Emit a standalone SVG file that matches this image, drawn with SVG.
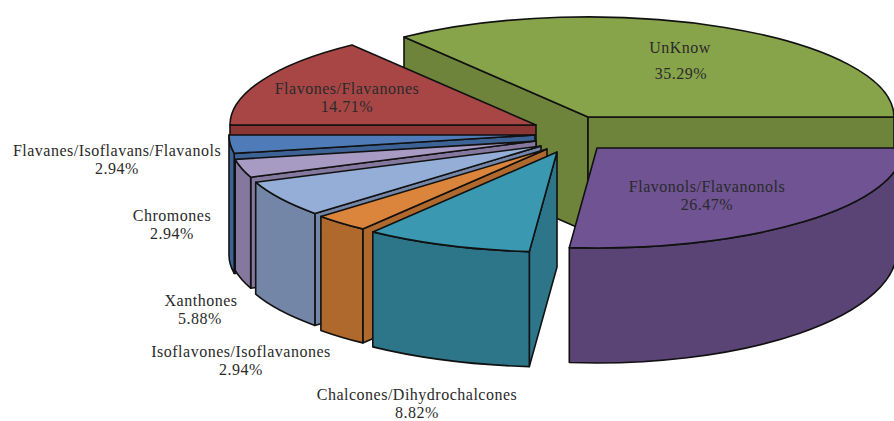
<svg xmlns="http://www.w3.org/2000/svg" width="894" height="421" viewBox="0 0 894 421">
<style>
path,polygon{stroke:#111;stroke-width:1.6;stroke-linejoin:round}
.gt{fill:#88A44B}.gs{fill:#6E843A}
.rt{fill:#A84646}.rs{fill:#8C3535}
.bt{fill:#4F7CB8}.bs{fill:#3D6396}
.lt{fill:#A79BC4}.ls{fill:#84789E}
.xt{fill:#95AED7}.xs{fill:#7386A8}
.ot{fill:#DB843B}.os{fill:#B0692C}
.tt{fill:#3A98B1}.ts{fill:#2D768A}
.pt{fill:#6F5393}.ps{fill:#5A4475}
text{font-family:"Liberation Serif","Times New Roman",serif;font-size:16px;letter-spacing:0.5px;fill:#2a2a2a;text-anchor:middle}
</style>
<rect width="894" height="421" fill="#fff"/>
<g id="slice-unknow">
<polygon class="gs" points="404,37 588,117 588,232 404,152"/>
<polygon class="gs" points="588,117 894,117 894,232 588,232"/>
<path class="gt" d="M588,117 L894,117 A306,100 0 0 0 404,37 Z"/>
</g>
<g id="slice-flavones">
<polygon class="rs" points="230,125 536,125 536,240 230,240"/>
<path class="rt" d="M536,125 L352,45 A306,100 0 0 0 230,125 Z"/>
</g>
<g id="slice-flavanes">
<polygon class="bs" points="535,135 234.2,153.4 234.2,273.4 535,255"/>
<path class="bs" d="M229,135 A306,100 0 0 0 234.2,153.4 L234.2,273.4 A306,100 0 0 1 229,255 Z"/>
<path class="bt" d="M535,135 L229,135 A306,100 0 0 0 234.2,153.4 Z"/>
</g>
<g id="slice-chromones">
<polygon class="ls" points="536,141 250.7,177.2 250.7,288.2 536,252"/>
<path class="ls" d="M235.2,159.4 A306,100 0 0 0 250.7,177.2 L250.7,288.2 A306,100 0 0 1 235.2,270.4 Z"/>
<path class="lt" d="M536,141 L235.2,159.4 A306,100 0 0 0 250.7,177.2 Z"/>
</g>
<g id="slice-xanthones">
<polygon class="xs" points="541,146 314.9,213.4 314.9,325.4 541,258"/>
<path class="xs" d="M255.7,182.2 A306,100 0 0 0 314.9,213.4 L314.9,325.4 A306,100 0 0 1 255.7,294.2 Z"/>
<path class="xt" d="M541,146 L255.7,182.2 A306,100 0 0 0 314.9,213.4 Z"/>
</g>
<g id="slice-isoflavones">
<polygon class="os" points="547,149 362.8,228.9 362.8,342.9 547,263"/>
<path class="os" d="M320.9,216.4 A306,100 0 0 0 362.8,228.9 L362.8,342.9 A306,100 0 0 1 320.9,330.4 Z"/>
<path class="ot" d="M547,149 L320.9,216.4 A306,100 0 0 0 362.8,228.9 Z"/>
</g>
<g id="slice-chalcones">
<polygon class="ts" points="557,152 529.3,251.6 529.3,366.6 557,267"/>
<path class="ts" d="M372.8,231.9 A306,100 0 0 0 529.3,251.6 L529.3,366.6 A306,100 0 0 1 372.8,346.9 Z"/>
<path class="tt" d="M557,152 L372.8,231.9 A306,100 0 0 0 529.3,251.6 Z"/>
</g>
<g id="slice-flavonols">
<path class="ps" d="M569.3,247.6 A306,100 0 0 0 903,148 L897,250 A300,113 0 0 1 569.3,362.5 Z"/>
<path class="pt" d="M597,148 L569.3,247.6 A306,100 0 0 0 903,148 Z"/>
</g>
<g id="labels">
<text x="680" y="53">UnKnow</text>
<text x="681" y="79">35.29%</text>
<text x="347" y="94">Flavones/Flavanones</text>
<text x="347" y="112">14.71%</text>
<text x="707" y="192">Flavonols/Flavanonols</text>
<text x="707" y="210">26.47%</text>
<text x="117" y="156">Flavanes/Isoflavans/Flavanols</text>
<text x="117" y="174">2.94%</text>
<text x="172" y="221">Chromones</text>
<text x="172" y="239">2.94%</text>
<text x="201" y="306">Xanthones</text>
<text x="200" y="324">5.88%</text>
<text x="241" y="357">Isoflavones/Isoflavanones</text>
<text x="241" y="375">2.94%</text>
<text x="417" y="400">Chalcones/Dihydrochalcones</text>
<text x="417" y="418">8.82%</text>
</g>
</svg>
